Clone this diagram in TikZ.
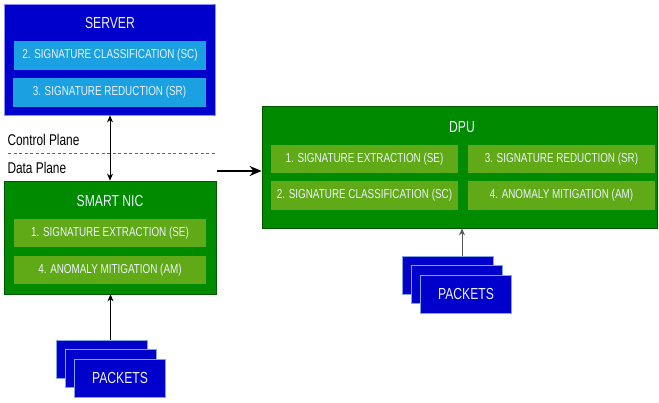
\documentclass[tikz,border=0pt]{standalone}
\usepackage{fontspec}
\setmainfont{Liberation Sans}[FakeStretch=0.76]
\usetikzlibrary{arrows.meta}

\definecolor{srvblue}{HTML}{0000CC}
\definecolor{srvline}{HTML}{8F8FFF}
\definecolor{pktline}{HTML}{7EA6E0}
\definecolor{cyanbox}{HTML}{1BA1E2}
\definecolor{nicgreen}{HTML}{008A00}
\definecolor{nicline}{HTML}{005700}
\definecolor{stepgreen}{HTML}{60A917}
\definecolor{txtlight}{HTML}{EEF2FF}

\tikzset{
  outerbox/.style={rectangle, inner sep=0pt, line width=0.8pt},
  serverbox/.style={outerbox, fill=srvblue, draw=srvline},
  greenbox/.style={outerbox, fill=nicgreen, draw=nicline},
  title/.style={text=txtlight, font=\fontsize{16}{19}\selectfont},
  stepblue/.style={rectangle, inner sep=0pt, fill=cyanbox, text=txtlight,
    font=\fontsize{13}{15}\selectfont},
  stepgrn/.style={stepblue, fill=stepgreen},
  pkt/.style={rectangle, inner sep=0pt, fill=srvblue, draw=pktline, line width=0.8pt,
    minimum width=91pt, minimum height=38pt, text=txtlight,
    font=\fontsize{16}{19}\selectfont},
  plane/.style={anchor=west, font=\fontsize{15.6}{18}\selectfont},
  thinarrow/.style={-{Stealth[length=7pt,width=6pt]}, line width=0.8pt}
}

\begin{document}
\begin{tikzpicture}[x=1pt,y=-1pt]
  \useasboundingbox (0,0) rectangle (659,403);

  % server
  \node[serverbox, minimum width=211pt, minimum height=111pt] (server) at (109.5,59.5) {};
  \node[title] (servert) at (110,23) {SERVER};
  \node[stepblue, minimum width=192pt, minimum height=29pt] (srvsc) at (110,55.5) {2. SIGNATURE CLASSIFICATION (SC)};
  \node[stepblue, minimum width=193pt, minimum height=29pt] (srvsr) at (109.5,92.5) {3. SIGNATURE REDUCTION (SR)};

  % planes
  \node[plane] (ctrl) at (4,140) {Control Plane};
  \node[plane] (data) at (4,168) {Data Plane};
  \coordinate (dashl) at (8,153);
  \coordinate (dashr) at (215,153);
  \draw[gray!80!black, line width=0.6pt, dash pattern=on 3pt off 2.5pt] (dashl) -- (dashr);

  % smart nic
  \node[greenbox, minimum width=212pt, minimum height=113pt] (nic) at (110,237.5) {};
  \node[title] (nict) at (110,201) {SMART NIC};
  \node[stepgrn, minimum width=192pt, minimum height=28pt] (nicse) at (110,233) {1. SIGNATURE EXTRACTION (SE)};
  \node[stepgrn, minimum width=192pt, minimum height=28pt] (nicam) at (110,270) {4. ANOMALY MITIGATION (AM)};

  \draw[{Stealth[length=7pt,width=6pt]}-{Stealth[length=7pt,width=6pt]}, line width=0.8pt]
    (server.south -| nict) -- (nic.north -| nict);

  % dpu
  \node[greenbox, minimum width=395pt, minimum height=122pt] (dpu) at (459.5,167) {};
  \node[title] (dput) at (462,127) {DPU};
  \node[stepgrn, minimum width=187pt, minimum height=28pt] (dpuse) at (364.5,159) {1. SIGNATURE EXTRACTION (SE)};
  \node[stepgrn, minimum width=187pt, minimum height=29pt] (dpusc) at (364.5,195.5) {2. SIGNATURE CLASSIFICATION (SC)};
  \node[stepgrn, minimum width=187pt, minimum height=28pt] (dpusr) at (561.5,159) {3. SIGNATURE REDUCTION (SR)};
  \node[stepgrn, minimum width=187pt, minimum height=29pt] (dpuam) at (561.5,195.5) {4. ANOMALY MITIGATION (AM)};

  \coordinate (offload) at (217,171);
  \draw[-{Stealth[length=12pt,width=10pt]}, line width=2pt] (offload) -- (offload -| dpu.west);

  % packets
  \node[pkt] (pktl1) at (101.5,359) {};
  \node[pkt] (pktl2) at (110.5,368.5) {};
  \node[pkt] (pktl3) at (120,378) {PACKETS};
  \draw[thinarrow] (pktl2 |- pktl1.north) -- (pktl2 |- nic.south);

  \node[pkt] (pktr1) at (447.5,275.5) {};
  \node[pkt] (pktr2) at (456.5,284.5) {};
  \node[pkt] (pktr3) at (466,294) {PACKETS};
  \draw[thinarrow, draw=black!65] (dput |- pktr1.north) -- (dput |- dpu.south);
\end{tikzpicture}
\end{document}
